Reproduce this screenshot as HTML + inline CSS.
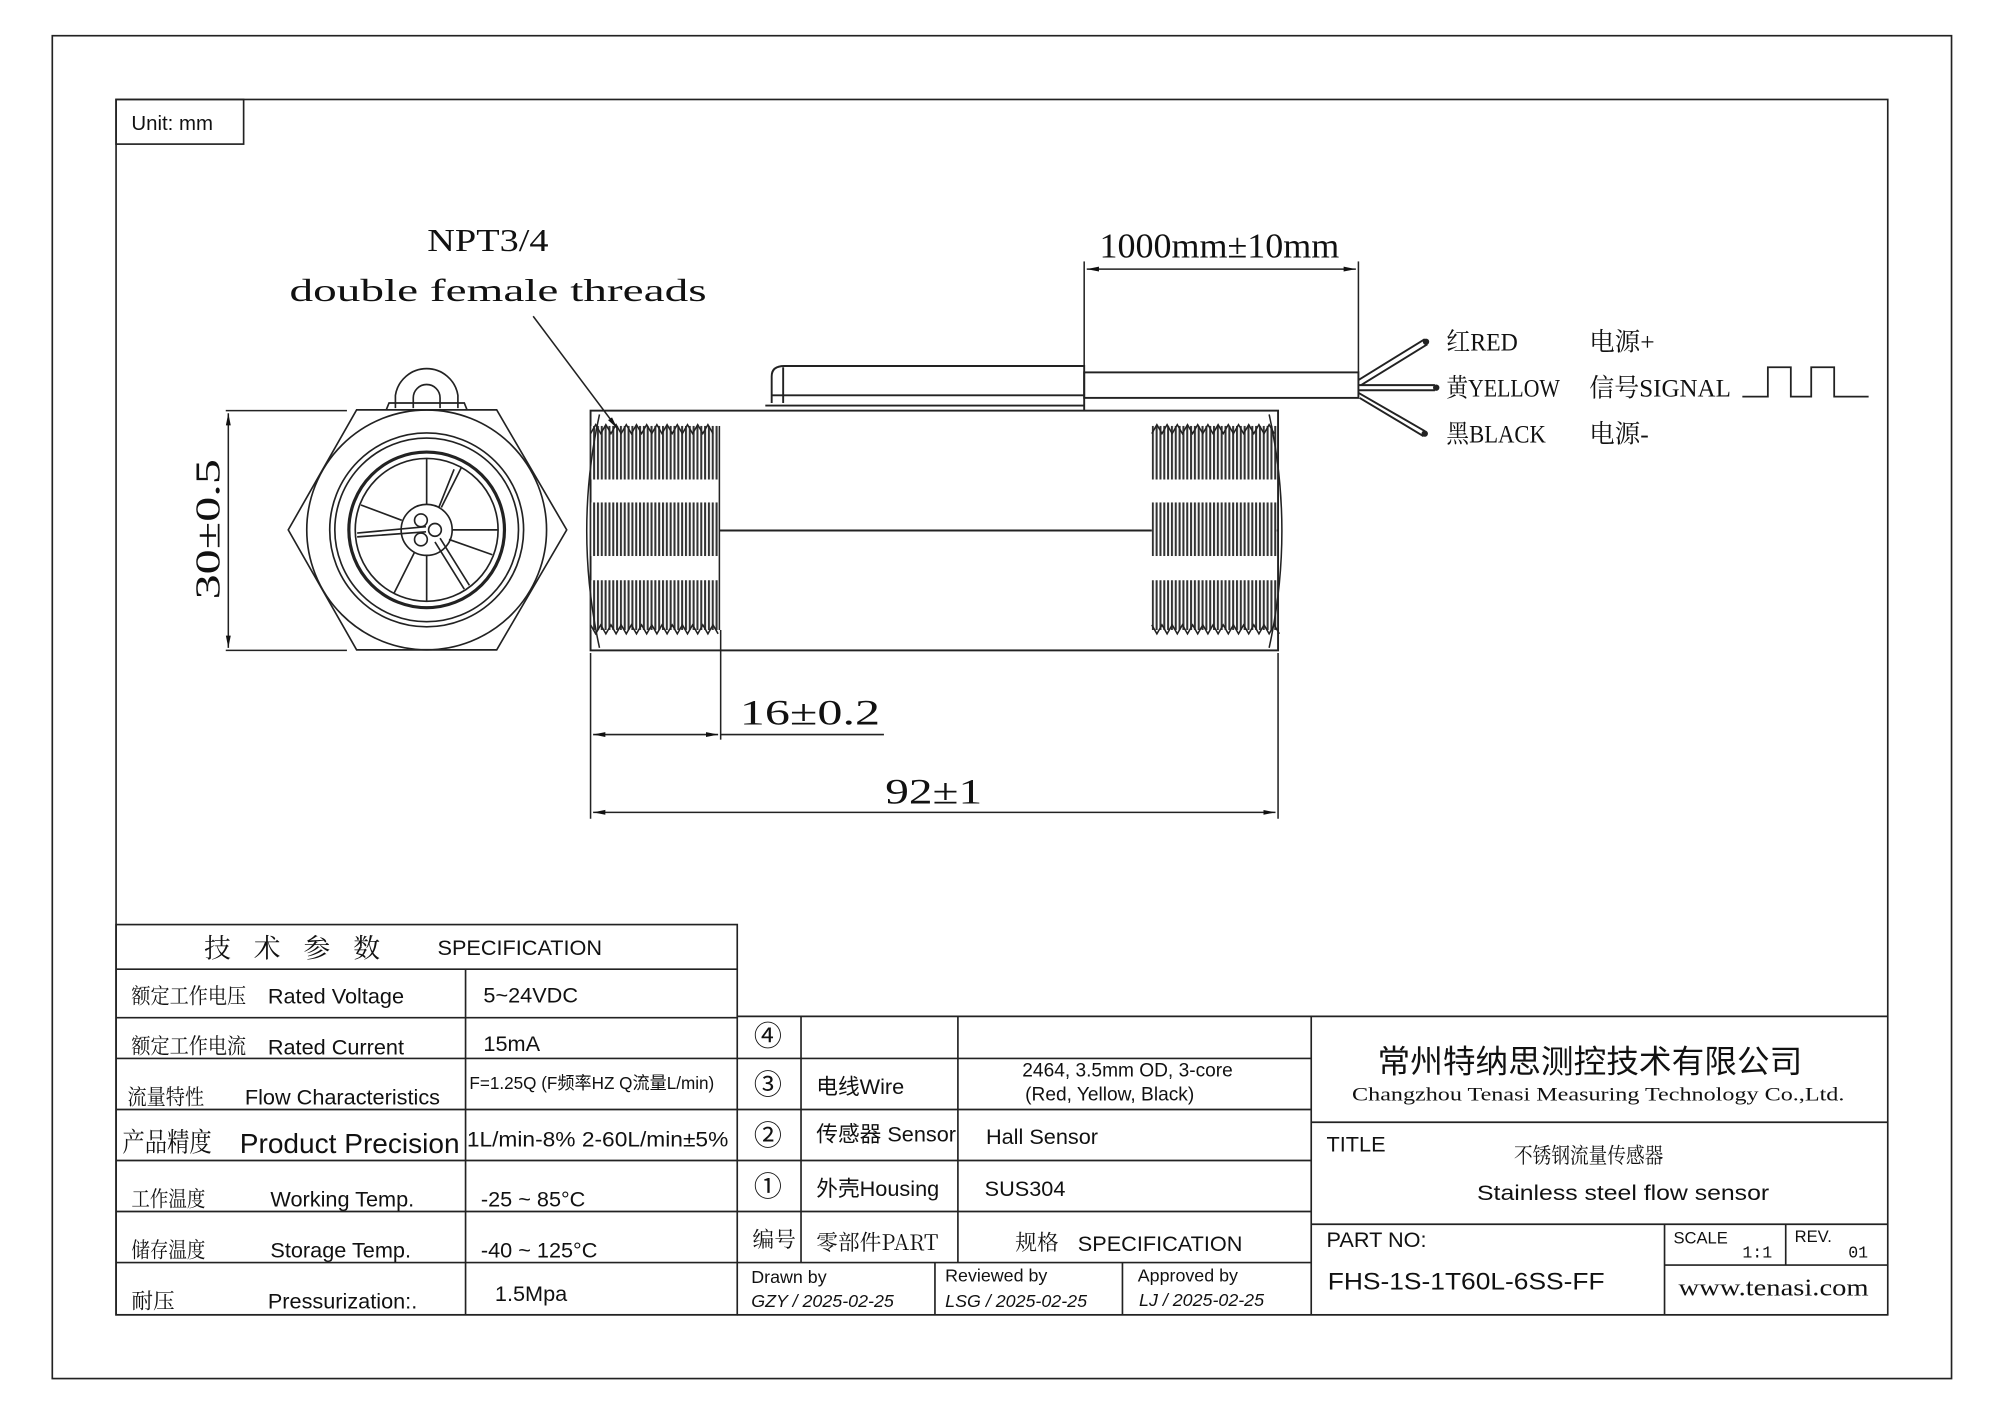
<!DOCTYPE html>
<html><head><meta charset="utf-8"><style>
html,body{margin:0;padding:0;background:#fff;}
svg{display:block;}
text{fill:#111;}
.s{font-family:"Liberation Sans","Noto Sans CJK SC",sans-serif;}
.r{font-family:"Liberation Serif","Noto Serif CJK SC",serif;}
.m{font-family:"Liberation Mono","Noto Sans CJK SC",monospace;}
</style></head><body>
<svg width="2000" height="1413" viewBox="0 0 1568 1108" preserveAspectRatio="none" xmlns="http://www.w3.org/2000/svg">
<defs>
<pattern id="th" width="3" height="10" patternUnits="userSpaceOnUse"><rect width="3" height="10" fill="#fff"/><rect x="0" width="1.6" height="10" fill="#333"/></pattern>
<marker id="ar" viewBox="0 0 10 10" refX="10" refY="5" markerWidth="8" markerHeight="8" orient="auto-start-reverse"><path d="M0,3 L10,5 L0,7 z" fill="#111"/></marker>
</defs>
<rect width="1568" height="1108" fill="#fff"/>
<g fill="none" stroke="#222" stroke-width="1.3">
<rect x="41" y="28" width="1489" height="1053"/>
<rect x="91" y="78" width="1389" height="953"/>
<rect x="91" y="78" width="100" height="35"/>
</g>
<text class="s" x="103" y="102" font-size="16">Unit: mm</text>

<!-- Hex end view -->
<g fill="none" stroke="#222" stroke-width="1.3">
<polygon points="279.6,321.4 389.4,321.4 444.3,415.5 389.4,509.6 279.6,509.6 226,415.5"/>
<circle cx="334.5" cy="415.5" r="94"/>
<circle cx="334.5" cy="415.5" r="76"/>
<circle cx="334.5" cy="415.5" r="72"/>
<circle cx="334.5" cy="415.5" r="61" stroke-width="2.5"/>
<circle cx="334.5" cy="415.5" r="56"/>
<circle cx="334.5" cy="415.5" r="20"/>
<circle cx="330" cy="408" r="5"/><circle cx="330" cy="423" r="5"/><circle cx="341" cy="415.5" r="5"/>
<path d="M310,320 L310,310 A24.8,24.8 0 0 1 359,310 L359,320"/>
<path d="M324,320 L324,312 A10.5,10.5 0 0 1 345,312 L345,320"/>
<path d="M303,321 L305,316 L364,316 L366,321"/>
<path d="M280,418 L334,413 M280,421 L334,417 M354.5,415.5 L390.5,415.5 M334.5,395.5 L334.5,359.5 M334.5,435.5 L334.5,471.5 M315,408 L283,396 M352,423 L386,435 M344,398 L356,368 M346,398 L362,366 M325,433 L309,465 M341,425 L364,462 M345,422 L368,459"/>
</g>
<!-- 30 dim -->
<g stroke="#222" stroke-width="1.2" fill="none">
<line x1="177" y1="322" x2="272" y2="322"/><line x1="177" y1="510" x2="272" y2="510"/>
<line x1="179" y1="324" x2="179" y2="508" marker-start="url(#ar)" marker-end="url(#ar)"/>
</g>
<text class="r" font-size="27" transform="translate(172,470) rotate(-90)" textLength="110" lengthAdjust="spacingAndGlyphs">30±0.5</text>

<!-- Main body -->
<g fill="none" stroke="#222" stroke-width="1.5">
<rect x="463" y="322" width="539" height="188"/>
<line x1="463" y1="416" x2="1002" y2="416"/>
<path d="M605,316 L605,295 Q605,287 615,287 L850,287 L850,322"/>
<line x1="605" y1="310" x2="850" y2="310"/>
<line x1="600" y1="318" x2="850" y2="318"/>
<line x1="614" y1="288" x2="614" y2="316"/>
<rect x="850" y="292" width="215" height="20"/>
<path d="M1065,298 L1117,266 M1067,302 L1119,270"/>
<path d="M1065,302 L1125,302 M1065,306 L1125,306"/>
<path d="M1065,308 L1117,338 M1066,312 L1116,342"/>
</g>
<g fill="#222"><circle cx="1118" cy="268" r="2.5"/><circle cx="1126" cy="304" r="2.5"/><circle cx="1117" cy="340" r="2.5"/></g>

<!-- threads -->
<g>
<rect x="463" y="334" width="101" height="42" fill="url(#th)"/>
<rect x="463" y="394" width="101" height="42" fill="url(#th)"/>
<rect x="463" y="455" width="101" height="39" fill="url(#th)"/>
<rect x="903" y="334" width="98" height="42" fill="url(#th)"/>
<rect x="903" y="394" width="98" height="42" fill="url(#th)"/>
<rect x="903" y="455" width="98" height="39" fill="url(#th)"/>
<g fill="none" stroke="#222" stroke-width="1.2">
<path d="M463,340 l4,-7 l4,7 l4,-7 l4,7 l4,-7 l4,7 l4,-7 l4,7 l4,-7 l4,7 l4,-7 l4,7 l4,-7 l4,7 l4,-7 l4,7 l4,-7 l4,7 l4,-7 l4,7 l4,-7 l4,7 l4,-7 l4,7"/>
<path d="M463,490 l4,7 l4,-7 l4,7 l4,-7 l4,7 l4,-7 l4,7 l4,-7 l4,7 l4,-7 l4,7 l4,-7 l4,7 l4,-7 l4,7 l4,-7 l4,7 l4,-7 l4,7 l4,-7 l4,7 l4,-7 l4,7 l4,-7 l4,7"/>
<path d="M903,340 l4,-7 l4,7 l4,-7 l4,7 l4,-7 l4,7 l4,-7 l4,7 l4,-7 l4,7 l4,-7 l4,7 l4,-7 l4,7 l4,-7 l4,7 l4,-7 l4,7 l4,-7 l4,7 l4,-7 l4,7 l4,-7 l4,7"/>
<path d="M903,490 l4,7 l4,-7 l4,7 l4,-7 l4,7 l4,-7 l4,7 l4,-7 l4,7 l4,-7 l4,7 l4,-7 l4,7 l4,-7 l4,7 l4,-7 l4,7 l4,-7 l4,7 l4,-7 l4,7 l4,-7 l4,7 l4,-7 l4,7"/>
<path d="M470,325 Q450,416 470,508"/>
<path d="M995,325 Q1015,416 995,508"/>
<line x1="564" y1="334" x2="564" y2="494"/>
</g>
</g>

<!-- NPT label -->
<text class="r" x="335" y="197" font-size="25" textLength="95" lengthAdjust="spacingAndGlyphs">NPT3/4</text>
<text class="r" x="227" y="236" font-size="25" textLength="327" lengthAdjust="spacingAndGlyphs">double female threads</text>
<line x1="418" y1="248" x2="484" y2="336" stroke="#222" stroke-width="1.2" marker-end="url(#ar)"/>

<!-- 1000 dim -->
<g stroke="#222" stroke-width="1.2" fill="none">
<line x1="850" y1="205" x2="850" y2="287"/><line x1="1065" y1="205" x2="1065" y2="292"/>
<line x1="852" y1="211" x2="1063" y2="211" marker-start="url(#ar)" marker-end="url(#ar)"/>
</g>
<text class="r" x="862" y="202" font-size="27" textLength="188" lengthAdjust="spacingAndGlyphs">1000mm±10mm</text>

<!-- wire labels -->
<g class="r" font-size="20">
<text x="1134" y="275" textLength="56" lengthAdjust="spacingAndGlyphs">红RED</text><text x="1246" y="275">电源+</text>
<text x="1134" y="311" textLength="89" lengthAdjust="spacingAndGlyphs">黄YELLOW</text><text x="1246" y="311" textLength="111" lengthAdjust="spacingAndGlyphs">信号SIGNAL</text>
<text x="1134" y="347" textLength="78" lengthAdjust="spacingAndGlyphs">黑BLACK</text><text x="1246" y="347">电源-</text>
</g>
<path d="M1366,311 L1386,311 L1386,288 L1404,288 L1404,311 L1420,311 L1420,288 L1438,288 L1438,311 L1465,311" fill="none" stroke="#222" stroke-width="1.4"/>

<!-- 16 & 92 dims -->
<g stroke="#222" stroke-width="1.2" fill="none">
<line x1="463" y1="512" x2="463" y2="642"/><line x1="1002" y1="512" x2="1002" y2="642"/>
<line x1="565" y1="494" x2="565" y2="580"/>
<line x1="465" y1="576" x2="563" y2="576" marker-start="url(#ar)" marker-end="url(#ar)"/>
<line x1="565" y1="576" x2="693" y2="576"/>
<line x1="465" y1="637" x2="1000" y2="637" marker-start="url(#ar)" marker-end="url(#ar)"/>
</g>
<text class="r" x="580" y="568" font-size="28" textLength="110" lengthAdjust="spacingAndGlyphs">16±0.2</text>
<text class="r" x="694" y="630" font-size="28" textLength="76" lengthAdjust="spacingAndGlyphs">92±1</text>

<!-- Spec table -->
<g fill="none" stroke="#222" stroke-width="1.3">
<rect x="91" y="725" width="487" height="306"/>
<path d="M91,760 H578 M91,798 H578 M91,830 H578 M91,870 H578 M91,910 H578 M91,950 H578 M91,990 H578 M365,760 V1031"/>
</g>
<g class="s" font-size="17">
<text x="160" y="751" font-family="Noto Serif CJK SC,serif" font-size="21" letter-spacing="18">技术参数</text>
<text x="343" y="749">SPECIFICATION</text>
<text x="103" y="787" font-family="Noto Serif CJK SC,serif" textLength="90" lengthAdjust="spacingAndGlyphs">额定工作电压</text><text x="210" y="787">Rated Voltage</text><text x="379" y="786">5~24VDC</text>
<text x="103" y="826" font-family="Noto Serif CJK SC,serif" textLength="90" lengthAdjust="spacingAndGlyphs">额定工作电流</text><text x="210" y="827">Rated Current</text><text x="379" y="824">15mA</text>
<text x="100" y="866" font-family="Noto Serif CJK SC,serif" textLength="60" lengthAdjust="spacingAndGlyphs">流量特性</text><text x="192" y="866">Flow Characteristics</text><text x="368" y="854" font-size="14" textLength="192" lengthAdjust="spacingAndGlyphs">F=1.25Q (F频率HZ Q流量L/min)</text>
<text x="96" y="903" font-size="21" font-family="Noto Serif CJK SC,serif" textLength="70" lengthAdjust="spacingAndGlyphs">产品精度</text><text x="188" y="904" font-size="22">Product Precision</text><text x="366" y="899" textLength="205" lengthAdjust="spacingAndGlyphs">1L/min-8%  2-60L/min±5%</text>
<text x="103" y="946" font-family="Noto Serif CJK SC,serif" textLength="58" lengthAdjust="spacingAndGlyphs">工作温度</text><text x="212" y="946">Working Temp.</text><text x="377" y="946">-25 ~ 85°C</text>
<text x="103" y="986" font-family="Noto Serif CJK SC,serif" textLength="58" lengthAdjust="spacingAndGlyphs">储存温度</text><text x="212" y="986">Storage Temp.</text><text x="377" y="986">-40 ~ 125°C</text>
<text x="103" y="1026" font-family="Noto Serif CJK SC,serif">耐压</text><text x="210" y="1026">Pressurization:.</text><text x="388" y="1020">1.5Mpa</text>
</g>

<!-- Parts table -->
<g fill="none" stroke="#222" stroke-width="1.3">
<path d="M578,797 H1480 M578,830 H1028 M578,870 H1028 M578,910 H1028 M578,950 H1028 M578,990 H1028 M578,1031 H1480"/>
<path d="M628,797 V990 M751,797 V990 M733,990 V1031 M880,990 V1031 M1028,797 V1031"/>
<path d="M1028,880 H1480 M1028,960 H1480 M1305,960 V1031 M1400,960 V992 M1305,992 H1480"/>
</g>
<g class="s" font-size="17">
<text x="591" y="820" font-size="22">④</text>
<text x="591" y="858" font-size="22">③</text>
<text x="591" y="898" font-size="22">②</text>
<text x="591" y="938" font-size="22">①</text>
<text x="590" y="978" font-family="Noto Serif CJK SC,serif">编号</text>
<text x="640" y="858">电线Wire</text>
<text x="884" y="844" text-anchor="middle" font-size="15">2464, 3.5mm OD, 3-core</text>
<text x="870" y="863" text-anchor="middle" font-size="15">(Red, Yellow, Black)</text>
<text x="640" y="895">传感器 Sensor</text><text x="773" y="897">Hall Sensor</text>
<text x="640" y="938">外壳Housing</text><text x="772" y="938">SUS304</text>
<text x="640" y="980" font-family="Noto Serif CJK SC,serif">零部件PART</text>
<text x="796" y="980" font-family="Noto Serif CJK SC,serif">规格</text><text x="845" y="981">SPECIFICATION</text>
<text x="589" y="1006" font-size="14">Drawn by</text><text x="589" y="1025" font-size="14" font-style="italic">GZY / 2025-02-25</text>
<text x="741" y="1005" font-size="14">Reviewed by</text><text x="741" y="1025" font-size="14" font-style="italic">LSG / 2025-02-25</text>
<text x="892" y="1005" font-size="14">Approved by</text><text x="893" y="1024" font-size="14" font-style="italic">LJ / 2025-02-25</text>
</g>
<!-- Title block -->
<text x="1080" y="841" font-size="25" font-family="Noto Sans CJK SC,sans-serif" textLength="333" lengthAdjust="spacingAndGlyphs">常州特纳思测控技术有限公司</text>
<text class="r" x="1060" y="863" font-size="15" textLength="386" lengthAdjust="spacingAndGlyphs">Changzhou Tenasi Measuring Technology Co.,Ltd.</text>
<g class="s" font-size="17">
<text x="1040" y="903">TITLE</text>
<text x="1187" y="912" font-size="17" font-family="Noto Serif CJK SC,serif" textLength="117" lengthAdjust="spacingAndGlyphs">不锈钢流量传感器</text>
<text x="1158" y="941" textLength="229" lengthAdjust="spacingAndGlyphs">Stainless steel flow sensor</text>
<text x="1040" y="978">PART NO:</text>
<text x="1041" y="1011" font-size="19" textLength="217" lengthAdjust="spacingAndGlyphs">FHS-1S-1T60L-6SS-FF</text>
<text x="1312" y="975" font-size="13">SCALE</text><text x="1366" y="986" font-size="13" class="m">1:1</text>
<text x="1407" y="974" font-size="13">REV.</text><text x="1449" y="986" font-size="13" class="m">01</text>
</g>
<text class="r" x="1316" y="1016" font-size="19" textLength="149" lengthAdjust="spacingAndGlyphs">www.tenasi.com</text>
</svg>
</body></html>
